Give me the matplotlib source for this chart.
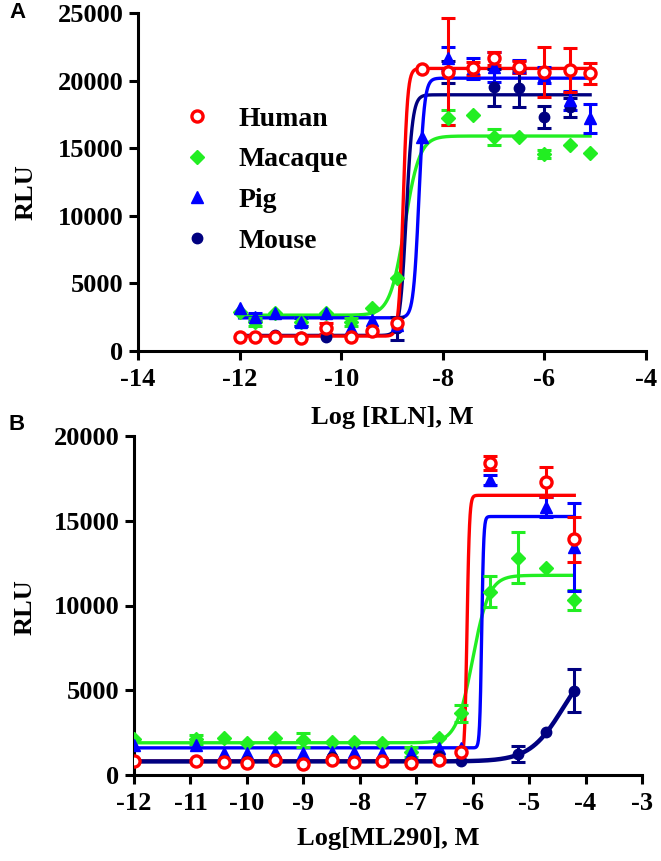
import numpy as np
import matplotlib
matplotlib.use("Agg")
import matplotlib.pyplot as plt
from matplotlib.lines import Line2D

plt.rcParams['font.family'] = ['Liberation Serif', 'DejaVu Serif']
plt.rcParams['font.weight'] = 'bold'

species = ["Human", "Macaque", "Pig", "Mouse"]
colors = {"Human": "#FF0000", "Macaque": "#22EE22", "Pig": "#0000FF", "Mouse": "#000080"}
markers = {"Human": "o", "Macaque": "D", "Pig": "^", "Mouse": "o"}

# ---------------- Panel A data ----------------
log_rln = [-12.0, -11.7, -11.3, -10.8, -10.3, -9.8, -9.4, -8.9, -8.4, -7.9, -7.4, -7.0, -6.5, -6.0, -5.5, -5.1]
nan = float('nan')
a_human = [1010, 1010, 1010, 940, 1680, 1060, 1450, 2100, 20850, 20650, 20900, 21640, 21030, 20650, 20780, 20530]
a_human_err = [0, 0, 0, 0, 400, 0, 0, 0, 0, 3950, 450, 500, 450, 1850, 1600, 800]
a_macaque = [2910, 2170, 2790, 2170, 2790, 2170, 3155, 5370, nan, 17260, 17450, 15850, 15850, 14570, 15230, 14670]
a_macaque_err = [0, 300, 0, 300, 0, 300, 0, 0, 0, 550, 0, 600, 0, 300, 0, 0]
a_pig = [3160, 2540, 2790, 2170, 2790, 1680, 2290, 1920, 15850, 21640, 20900, 21030, 21030, 20410, 18560, 17200]
a_pig_err = [0, 300, 0, 300, 0, 0, 0, 0, 0, 860, 800, 1100, 500, 600, 700, 1050]
a_mouse = [1010, 1010, 1180, 1010, 1010, 1010, 1550, 1680, nan, 20650, 20900, 19500, 19420, 17330, 18020, nan]
a_mouse_err = [0, 0, 0, 0, 0, 0, 0, 850, 0, 800, 0, 1350, 1350, 800, 700, 0]

# fitted curve parameters (bottom, top, logEC50, hill)
a_fit = {"Human": (1100, 20900, -8.78, 10),
         "Macaque": (2650, 15900, -8.75, 3),
         "Pig": (2450, 20180, -8.47, 8),
         "Mouse": (1150, 18950, -8.72, 7)}

# ---------------- Panel B data ----------------
log_ml290 = [-12.0, -10.9, -10.4, -10.0, -9.5, -9.0, -8.5, -8.1, -7.6, -7.1, -6.6, -6.2, -5.7, -5.2, -4.7, -4.2]
b_human = [850, 850, 790, 690, 885, 650, 885, 790, 845, 690, 885, 1380, 18390, nan, 17270, 13900]
b_human_err = [0, 0, 0, 0, 0, 0, 0, 0, 0, 0, 0, 0, 420, 0, 880, 1330]
b_macaque = [2150, 2100, 2160, 1870, 2160, 2065, 1970, 1970, 1870, 1380, 2160, 3640, 10820, 12820, 12200, 10330]
b_macaque_err = [0, 250, 0, 0, 0, 400, 0, 0, 0, 300, 0, 500, 900, 1500, 0, 600]
b_pig = [1770, 1770, 1280, 1280, 1350, 1280, 1350, 1380, 1300, 1300, 1570, 1570, 17400, nan, 15830, 13470]
b_pig_err = [0, 0, 0, 0, 0, 0, 0, 0, 0, 0, 0, 0, 300, 0, 600, 2600]
b_mouse = [850, 850, 850, 850, 850, 700, 1080, 850, 850, 850, 1100, 845, nan, 1240, 2520, 4980]
b_mouse_err = [0, 0, 0, 0, 0, 0, 0, 0, 0, 0, 0, 0, 0, 500, 0, 1280]

b_fit = {"Human": (820, 16500, -6.10, 20),
         "Macaque": (1900, 11780, -6.00, 3),
         "Pig": (1600, 15250, -5.84, 25),
         "Mouse": (800, 7100, -4.40, 1.47)}


def curve(x, p):
    b, t, c, h = p
    return b + (t - b) / (1 + 10 ** ((c - x) * h))


W, H = 661, 861
fig = plt.figure(figsize=(W / 100, H / 100), dpi=100)
axA = fig.add_axes([138 / W, 1 - 351 / H, 508 / W, 338 / H])
axB = fig.add_axes([134 / W, 1 - 775 / H, 508 / W, 339 / H])

LW = 2.4
FS = 19


def draw(ax, xs, data, fits, order_curves, order_pts, xend):
    xs = np.array(xs)
    xx = np.linspace(-12, xend, 800)
    for sp in order_curves:
        lw = LW + (0.8 if (sp == "Mouse" and ax is axB) else 0)
        ax.plot(xx, curve(xx, fits[sp]), color=colors[sp], lw=lw, zorder=3)
    for sp in order_pts:
        y, e = data[sp]
        y = np.array(y, dtype=float)
        e = np.array(e, dtype=float)
        m = (e > 0) & ~np.isnan(y)
        ax.errorbar(xs[m], y[m], yerr=e[m], fmt='none', ecolor=colors[sp],
                    elinewidth=2.2, capsize=5, capthick=2.2, zorder=4)
        ok = ~np.isnan(y)
        if sp == "Human":
            ax.plot(xs[ok], y[ok], linestyle='none', marker='o', ms=8, mfc='white',
                    mec=colors[sp], mew=2.4, zorder=6)
        elif sp == "Macaque":
            ax.plot(xs[ok], y[ok], linestyle='none', marker='D', ms=7.5, color=colors[sp], zorder=5)
        elif sp == "Pig":
            ax.plot(xs[ok], y[ok], linestyle='none', marker='^', ms=8, color=colors[sp], zorder=5)
        else:
            ax.plot(xs[ok], y[ok], linestyle='none', marker='o', ms=7.5, color=colors[sp], zorder=5)


dataA = {"Human": (a_human, a_human_err), "Macaque": (a_macaque, a_macaque_err),
         "Pig": (a_pig, a_pig_err), "Mouse": (a_mouse, a_mouse_err)}
dataB = {"Human": (b_human, b_human_err), "Macaque": (b_macaque, b_macaque_err),
         "Pig": (b_pig, b_pig_err), "Mouse": (b_mouse, b_mouse_err)}

draw(axA, log_rln, dataA, a_fit, ["Macaque", "Mouse", "Pig", "Human"],
     ["Macaque", "Mouse", "Pig", "Human"], -5.1)
draw(axB, log_ml290, dataB, b_fit, ["Macaque", "Pig", "Human", "Mouse"],
     ["Macaque", "Pig", "Human", "Mouse"], -4.2)

for ax in (axA, axB):
    for s in ("top", "right"):
        ax.spines[s].set_visible(False)
    for s in ("left", "bottom"):
        ax.spines[s].set_linewidth(2.2)
    ax.tick_params(width=2.2, length=6.5, labelsize=FS, pad=4)
    ax.tick_params(axis='x', pad=6)

axA.set_xlim(-14, -4)
axA.set_ylim(0, 25000)
axA.set_xticks(np.arange(-14, -3, 2))
axA.set_yticks(np.arange(0, 25001, 5000))
axB.set_xlim(-12, -3)
axB.set_ylim(0, 20000)
axB.set_xticks(np.arange(-12, -2, 1))
axB.set_yticks(np.arange(0, 20001, 5000))
for ax in (axA, axB):
    ax.set_xticklabels([f"{int(v)}" for v in ax.get_xticks()], fontsize=FS, fontweight='bold')
    ax.set_yticklabels([f"{int(v)}" for v in ax.get_yticks()], fontsize=FS, fontweight='bold')

axA.set_xlabel("Log [RLN], M", fontsize=FS, fontweight='bold')
axA.xaxis.set_label_coords(0.5, -0.198)
axA.xaxis.label.set_va('center')
axA.set_ylabel("RLU", fontsize=FS, fontweight='bold')
axA.yaxis.set_label_coords(-0.22, 0.47)
axA.yaxis.label.set_va('center')

axB.set_xlabel("Log[ML290], M", fontsize=FS, fontweight='bold')
axB.xaxis.set_label_coords(0.5, -0.186)
axB.xaxis.label.set_va('center')
axB.set_ylabel("RLU", fontsize=FS, fontweight='bold')
axB.yaxis.set_label_coords(-0.215, 0.496)
axB.yaxis.label.set_va('center')

handles = [
    Line2D([], [], linestyle='none', marker='o', ms=8, mfc='white', mec=colors["Human"], mew=2.4),
    Line2D([], [], linestyle='none', marker='D', ms=7.5, color=colors["Macaque"]),
    Line2D([], [], linestyle='none', marker='^', ms=8, color=colors["Pig"]),
    Line2D([], [], linestyle='none', marker='o', ms=7.5, color=colors["Mouse"]),
]
axA.legend(handles, species, loc='upper left', bbox_to_anchor=(0.066, 0.757), frameon=False,
           prop={'family': 'Liberation Serif', 'weight': 'bold', 'size': 20},
           handlelength=1.0, handletextpad=1.0, labelspacing=0.55, borderaxespad=0)

fig.text(9 / W, 1 - 12 / H, "A", fontsize=16, fontweight='bold', family='Liberation Sans', va='center')
fig.text(9 / W, 1 - 425 / H, "B", fontsize=16, fontweight='bold', family='Liberation Sans', va='center')

fig.savefig("out.png", dpi=100)
